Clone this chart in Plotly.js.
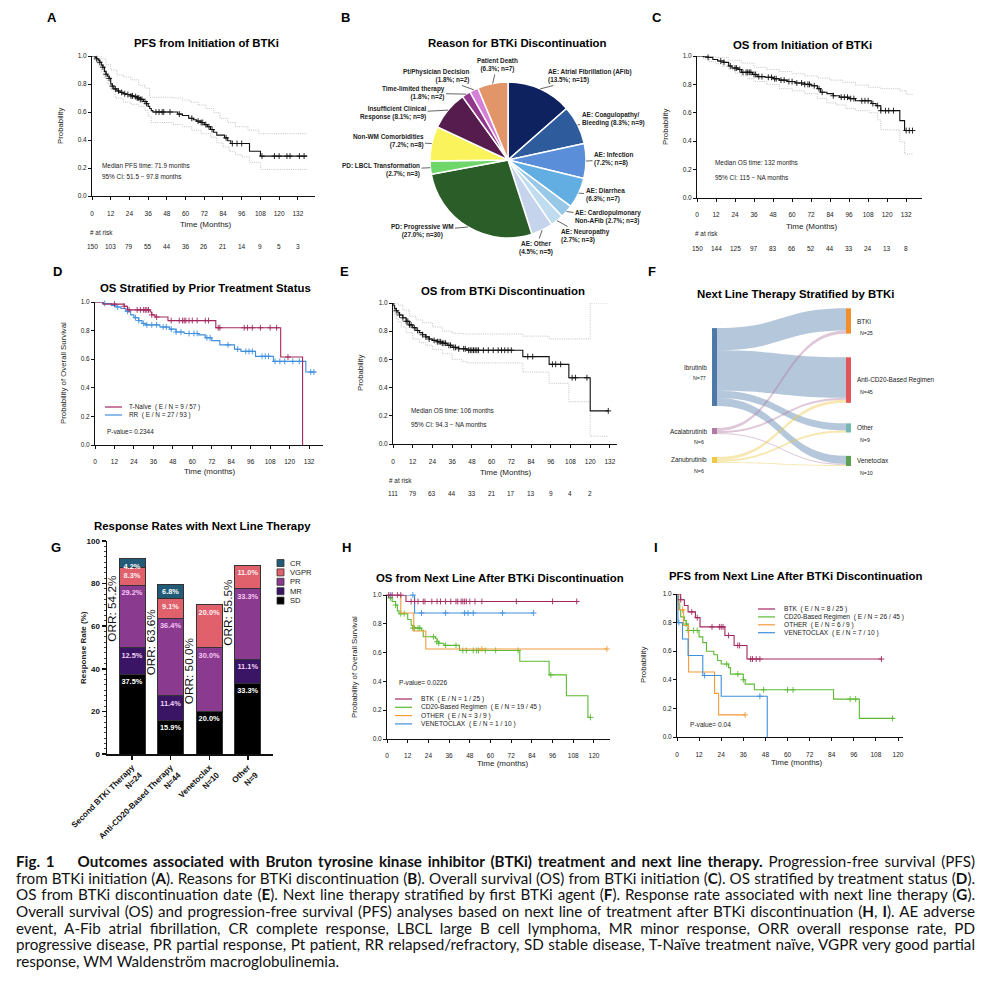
<!DOCTYPE html>
<html><head><meta charset="utf-8">
<script src="https://cdn.plot.ly/plotly-3.0.1.min.js"></script>
<style>
body{margin:0;background:#fff;}
#chart{position:absolute;left:0;top:0;width:994px;height:840px;}
#cap{position:absolute;left:16px;top:853px;width:959px;font-family:Lato,"Open Sans",sans-serif;color:#111;}
#cap div{text-align:justify;text-align-last:justify;white-space:normal;}
#cap div.last{text-align-last:left;}
</style></head><body>
<div id="chart"></div>
<div id="cap"></div>
<script>
// ---------------- DATA ----------------
const timeTicks132 = [0,12,24,36,48,60,72,84,96,108,120,132];
const timeTicks120 = [0,12,24,36,48,60,72,84,96,108,120];
const probTicks = [0,0.2,0.4,0.6,0.8,1.0];

// A: PFS from initiation of BTKi
const pfsA_t = [0,2,3,4,5,6,7,8,9,10,11,12,13,14,16,18,20,22,25,27,29,31,33,35,36,37,38,39,55,58,62,65,67,70,72,74,76,78,80,85,87,89,101,108,138];
const pfsA_s = [1.0,0.99,0.98,0.97,0.955,0.935,0.92,0.89,0.87,0.855,0.84,0.80,0.785,0.765,0.75,0.74,0.73,0.725,0.715,0.71,0.70,0.69,0.675,0.66,0.64,0.625,0.61,0.60,0.585,0.575,0.555,0.545,0.535,0.525,0.51,0.495,0.475,0.455,0.435,0.415,0.395,0.375,0.32,0.285,0.285];
const pfsA_cens = [3,5,7,9,11,13,15,17,19,21,23,25,26,28,29,30,31,32,34,35,41,43,45,46,50,56,64,68,70,71,73,75,77,86,90,93,96,109,117,120,125,127,133,136];
const pfsA_up_t = [0,3,6,9,12,16,20,25,30,34,37,52,58,63,68,73,78,82,87,92,100,107,138];
const pfsA_up_s = [1,1,0.98,0.94,0.90,0.865,0.85,0.83,0.79,0.77,0.705,0.70,0.685,0.67,0.65,0.625,0.595,0.555,0.525,0.495,0.47,0.445,0.445];
const pfsA_lo_t = [0,2,4,6,8,10,12,15,20,25,30,34,36,38,52,58,64,70,76,80,84,88,92,96,101,108,138];
const pfsA_lo_s = [1,0.97,0.93,0.89,0.84,0.80,0.76,0.70,0.67,0.655,0.64,0.61,0.57,0.525,0.51,0.495,0.47,0.445,0.42,0.38,0.35,0.32,0.295,0.28,0.24,0.19,0.19];
const riskA = [150,103,79,55,44,36,26,21,14,9,5,3];

// B: reasons for discontinuation
const pieNames = ['AE: Atrial Fibrillation (AFib)','AE: Coagulopathy/|Bleeding','AE: Infection','AE: Diarrhea','AE: Cardiopulmonary|Non-AFib','AE: Neuropathy','AE: Other','PD: Progressive WM','PD: LBCL Transformation','Non-WM Comorbidities','Insufficient Clinical|Response','Time-limited therapy','Pt/Physician Decision','Patient Death'];
const pieN = [15,9,8,7,3,3,5,30,3,8,9,2,2,7];
const piePct = ['13.5','8.3','7.2','6.3','2.7','2.7','4.5','27.0','2.7','7.2','8.1','1.8','1.8','6.3'];
const pieColors = ['#0e2260','#2d5b9c','#5b8ed8','#62ade2','#98c8e8','#c0dcef','#c6d3ec','#2a5d27','#6fd66a','#fbf35c','#561c4e','#92378c','#d57fd6','#e3956a'];

// C: OS from initiation of BTKi
const osC_t = [0,4,7,10,13,17,20,22,26,28,35,38,43,48,52,57,62,68,72,76,78,82,86,90,96,100,110,113,116,128,131,136];
const osC_s = [1,0.995,0.99,0.975,0.965,0.955,0.93,0.915,0.905,0.885,0.87,0.855,0.85,0.84,0.83,0.82,0.81,0.80,0.79,0.77,0.745,0.735,0.72,0.71,0.70,0.685,0.665,0.65,0.615,0.545,0.475,0.475];
const osC_cens = [7,15,17,21,24,25,27,29,31,32,33,34,36,37,39,41,45,47,49,50,53,55,58,60,63,66,68,70,71,74,77,79,86,91,93,95,97,99,104,106,108,111,114,116,119,121,124,132,134,136];
const osC_up_t = [0,6,12,20,28,36,44,52,60,68,76,84,92,100,108,116,128,132,136];
const osC_up_s = [1,1,0.99,0.97,0.95,0.92,0.905,0.89,0.875,0.86,0.845,0.83,0.815,0.795,0.78,0.77,0.755,0.73,0.72];
const osC_lo_t = [0,4,8,12,16,20,24,28,32,36,44,52,60,68,76,82,88,94,100,109,114,116,128,131,136];
const osC_lo_s = [1,0.98,0.96,0.945,0.925,0.905,0.88,0.86,0.84,0.82,0.80,0.77,0.755,0.735,0.70,0.67,0.655,0.63,0.615,0.60,0.55,0.48,0.395,0.31,0.31];
const riskC = [150,144,125,97,83,66,52,44,33,24,13,8];

// D: OS by prior treatment status
const tnD_t = [0,5,18,20,34,35,37,45,74.5,114.5,128];
const tnD_s = [1,0.985,0.97,0.945,0.93,0.91,0.895,0.87,0.82,0.615,0];
const tnD_cens = [12,18,21,26,28,30,31,32,33,35,38,47,52,54,55,56,58,60,63,68,70,76,77,92,94,97,102,108,112,119];
const rrD_t = [0,5,10,13,16,19,22,24,27,29,31,40,46,50,55,64,68,72,77,86,90,99,110,130,136];
const rrD_s = [1,0.99,0.975,0.965,0.955,0.935,0.91,0.89,0.87,0.85,0.84,0.825,0.81,0.79,0.78,0.77,0.75,0.73,0.70,0.67,0.655,0.62,0.585,0.51,0.51];
const rrD_cens = [6,14,20,25,27,30,32,35,38,42,44,47,50,53,58,61,63,69,71,82,88,93,95,97,103,105,107,111,114,117,122,126,133,135];
const dNames = ['T-Naïve','RR'];
const dEvents = [9,27];
const dTotals = [57,93];
const dPval = '0.2344';

// E: OS from BTKi discontinuation
const osE_t = [0,0.5,1,2,3,4,6,8,10,12,14,16,18,20,22,24,27,30,33,36,40,45,79,95,107,120,131];
const osE_s = [1,0.98,0.96,0.945,0.93,0.915,0.895,0.87,0.845,0.825,0.805,0.79,0.775,0.76,0.745,0.735,0.725,0.715,0.70,0.685,0.675,0.665,0.62,0.565,0.47,0.235,0.235];
const osE_cens = [2,4,6,8,9,10,11,13,15,18,20,22,25,27,28,29,30,31,32,34,35,37,38,40,43,44,46,47,48,49,50,51,52,55,58,61,64,66,68,70,72,82,85,97,99,102,109,111,118,131];
const osE_up_t = [0,1,3,6,10,14,18,24,30,36,42,79,95,120,131];
const osE_up_s = [1,1,0.985,0.95,0.905,0.88,0.86,0.83,0.80,0.785,0.78,0.765,0.745,1.0,1.0];
const osE_lo_t = [0,1,2,3,5,8,12,16,20,24,30,36,42,45,79,95,107,120,131];
const osE_lo_s = [0.96,0.92,0.89,0.865,0.83,0.79,0.745,0.72,0.70,0.67,0.64,0.60,0.585,0.575,0.51,0.43,0.30,0.055,0.055];
const riskE = [111,79,63,44,33,21,17,13,9,4,2];

// F: Sankey next line therapy by first BTKi
const sankeyNodes = ['Ibrutinib','Acalabrutinib','Zanubrutinib','BTKi','Anti-CD20-Based Regimen','Other','Venetoclax'];
const sankeySource = [0,0,0,0,1,1,1,2,2,2];
const sankeyTarget = [3,4,5,6,3,4,6,4,5,6];
const sankeyValue  = [22,40,7,8,3,2,1,3,2,1];
const sankeyNodeColors = ['#4e79a7','#b07aa1','#edc948','#f28e2b','#e15759','#76b7b2','#59a14f'];
const sankeyLinkColors = ['rgba(78,121,167,0.42)','rgba(176,122,161,0.42)','rgba(237,201,72,0.42)'];

// G: response rates
const gCats = ['Second BTKi Therapy','Anti-CD20-Based Therapy','Venetoclax','Other'];
const gN = [24,44,10,9];
const gSD = [37.5,15.9,20.0,33.3];
const gMR = [12.5,11.4,0,11.1];
const gPR = [29.2,36.4,30.0,33.3];
const gVGPR = [8.3,9.1,20.0,11.0];
const gCR = [4.2,6.8,0,0];
const gORR = ['54.2','63.6','50.0','55.5'];
const gSeries = ['SD','MR','PR','VGPR','CR'];
const gColors = ['#000000','#3a1566','#8a3b8f','#e0616c','#215b77'];
const gTextColors = ['#ffffff','#f3d2f3','#f7c7f3','#fff0f4','#ffffff'];

// H: OS from next line
const hBTK_t = [0,11,111];
const hBTK_s = [1,0.955,0.955];
const hBTK_c = [1,3,6,8,14,16,18,21,22,26,29,31,34,37,40,41,43,44,45,46,48,51,55,75,96,110];
const hCD_t = [0,1,3,5,6,7,12,14,15,20,21,28,29,30,33,42,77,94,104,116.5,118];
const hCD_s = [1,0.98,0.955,0.93,0.89,0.87,0.83,0.79,0.77,0.755,0.71,0.70,0.675,0.665,0.65,0.615,0.54,0.445,0.30,0.15,0.15];
const hCD_c = [2,5,8,10,15,16,18,19,27,29,30,34,40,44,46,50,52,53,57,63,76,95,118];
const hOT_t = [0,8,15.5,22.5,127.5];
const hOT_s = [1,0.875,0.75,0.625,0.625];
const hOT_c = [55,127.5];
const hVE_t = [0,16,85];
const hVE_s = [1,0.875,0.875];
const hVE_c = [2,15,20,34,45,47,50,67,85];
const hiNames = ['BTK','CD20-Based Regimen','OTHER','VENETOCLAX'];
const hEvents = [1,19,3,1];
const hiTotals = [25,45,9,10];
const hPval = '0.0226';

// I: PFS from next line
const iBTK_t = [0,2,4,6,10,12.5,26,31,38,111];
const iBTK_s = [1,0.96,0.92,0.875,0.835,0.77,0.71,0.64,0.545,0.545];
const iBTK_c = [2,8,11,19,23,24,25,28,33,34,40,41,43,45,111];
const iCD_t = [0,0.5,1,1.5,2,4,5,6,12,14,16,20,22,24,28,29,36,37,42,85,99,118];
const iCD_s = [1,0.96,0.93,0.89,0.84,0.815,0.79,0.745,0.70,0.66,0.60,0.575,0.535,0.51,0.485,0.44,0.40,0.37,0.33,0.265,0.13,0.13];
const iCD_c = [5,6,9,11,27,33,36,47,60,63,94,97,117];
const iOT_t = [0,1,3.6,6.3,20.4,22.6,37];
const iOT_s = [1,0.89,0.78,0.455,0.305,0.155,0.155];
const iOT_c = [3,37];
const iVE_t = [0,0.5,3,6,14,24,49];
const iVE_s = [1,0.8,0.685,0.57,0.43,0.285,0];
const iVE_c = [1,15,45];
const iEvents = [8,26,6,7];
const iPval = '0.04';

// ---------------- HELPERS ----------------
const FONT = 'Liberation Sans, Arial, sans-serif';
const W = 994, H = 840;
const CRIMSON = '#a3285f', BLUE = '#3e8fdd', GREEN = '#5cba35', ORANGE = '#f29b38';
const PX = x => x / W, PY = y => 1 - y / H;
const dX = (a, b) => [a / W, b / W];
const dY = (top, bottom) => [1 - bottom / H, 1 - top / H];

function stepAt(ts, ss, t) { let v = ss[0]; for (let i = 0; i < ts.length; i++) if (ts[i] <= t) v = ss[i]; return v; }
const traces = [];
function km(ts, ss, cens, color, xa, ya) {
  traces.push({type:'scatter', mode:'lines', x:ts, y:ss, xaxis:xa, yaxis:ya, line:{shape:'hv', color:color, width:1.1}, cliponaxis:false, hoverinfo:'skip', showlegend:false});
  traces.push({type:'scatter', mode:'markers', x:cens, y:cens.map(t => stepAt(ts, ss, t)), xaxis:xa, yaxis:ya,
    marker:{symbol:'cross-thin', size:4.2, color:color, line:{color:color, width:0.9}}, cliponaxis:false, hoverinfo:'skip', showlegend:false});
}
function ci(ts, ss, xa, ya) {
  traces.push({type:'scatter', mode:'lines', x:ts, y:ss, xaxis:xa, yaxis:ya, line:{shape:'hv', color:'#b4b4b4', width:0.8, dash:'1px,1.2px'}, cliponaxis:false, hoverinfo:'skip', showlegend:false});
}
const anns = [];
function T(text, x, y, size, o) {
  anns.push(Object.assign({text:text, x:PX(x), y:PY(y), xref:'paper', yref:'paper', showarrow:false, xanchor:'center', yanchor:'middle',
    font:{family:FONT, size:size, color:'#222'}}, o || {}));
}
const shapes = [];

function xAx(dom, range, anchor, ticks, standoff) {
  return {domain:dom, range:range, anchor:anchor, showgrid:false, zeroline:false, showline:true, linecolor:'#111', linewidth:1,
    ticks:'outside', ticklen:3, tickwidth:1, tickcolor:'#111', tickvals:ticks, tickfont:{family:FONT, size:6.5, color:'#222'},
    ticklabelstandoff:standoff, fixedrange:true};
}
function yAx(dom, anchor) {
  return {domain:dom, range:[0,1], anchor:anchor, showgrid:false, zeroline:false, showline:true, linecolor:'#111', linewidth:1,
    ticks:'outside', ticklen:3, tickwidth:1, tickcolor:'#111', tickvals:probTicks, tickformat:'.1f',
    tickfont:{family:FONT, size:6.5, color:'#222'}, fixedrange:true};
}

// ---------------- PANEL A ----------------
ci(pfsA_up_t, pfsA_up_s, 'x', 'y'); ci(pfsA_lo_t, pfsA_lo_s, 'x', 'y');
km(pfsA_t, pfsA_s, pfsA_cens, '#111', 'x', 'y');
// ---------------- PANEL C ----------------
ci(osC_up_t, osC_up_s, 'x2', 'y2'); ci(osC_lo_t, osC_lo_s, 'x2', 'y2');
km(osC_t, osC_s, osC_cens, '#111', 'x2', 'y2');
// ---------------- PANEL D ----------------
km(rrD_t, rrD_s, rrD_cens, BLUE, 'x3', 'y3');
km(tnD_t, tnD_s, tnD_cens, CRIMSON, 'x3', 'y3');
// ---------------- PANEL E ----------------
ci(osE_up_t, osE_up_s, 'x4', 'y4'); ci(osE_lo_t, osE_lo_s, 'x4', 'y4');
km(osE_t, osE_s, osE_cens, '#111', 'x4', 'y4');
// ---------------- PANEL H ----------------
const hiColors = [CRIMSON, GREEN, ORANGE, BLUE];
km(hCD_t, hCD_s, hCD_c, GREEN, 'x6', 'y6');
km(hOT_t, hOT_s, hOT_c, ORANGE, 'x6', 'y6');
km(hVE_t, hVE_s, hVE_c, BLUE, 'x6', 'y6');
km(hBTK_t, hBTK_s, hBTK_c, CRIMSON, 'x6', 'y6');
// ---------------- PANEL I ----------------
km(iCD_t, iCD_s, iCD_c, GREEN, 'x7', 'y7');
km(iOT_t, iOT_s, iOT_c, ORANGE, 'x7', 'y7');
km(iVE_t, iVE_s, iVE_c, BLUE, 'x7', 'y7');
km(iBTK_t, iBTK_s, iBTK_c, CRIMSON, 'x7', 'y7');

// ---------------- PANEL B (pie) ----------------
const pieCx = 508, pieCy = 160, pieR = 78;
traces.push({type:'pie', values:pieN, labels:pieNames.map(s => s.replace('|',' ')), sort:false, direction:'clockwise', rotation:0,
  textinfo:'none', hoverinfo:'label+value', showlegend:false,
  marker:{colors:pieColors, line:{color:'#ffffff', width:1.5}},
  domain:{x:dX(pieCx - pieR, pieCx + pieR), y:dY(pieCy - pieR, pieCy + pieR)}});
const pieLabelPos = [[590,76],[613,119],[614,159],[605,195],[608,217],[585,236],[536,248],[422,231],[381,170],[388,141],[393,113],[413,93],[436,76],[497,65]];
const pieAlign = ['left','left','left','left','left','left','center','center','right','right','right','right','right','center'];
const pieTotal = pieN.reduce((a, b) => a + b, 0);
let cum = 0;
pieN.forEach((n, i) => {
  const th = 2 * Math.PI * (cum + n / 2) / pieTotal; cum += n;
  const tx = pieCx + pieR * Math.sin(th), ty = pieCy - pieR * Math.cos(th);
  const name = pieNames[i];
  const txt = name.includes('|') ? name.replace('|', '<br>') + ' (' + piePct[i] + '%; n=' + n + ')'
                                 : name + '<br>(' + piePct[i] + '%; n=' + n + ')';
  anns.push({text:'<b>' + txt + '</b>', x:PX(tx), y:PY(ty), xref:'paper', yref:'paper', showarrow:true, arrowhead:0, arrowwidth:0.7,
    arrowcolor:'#222', standoff:0, ax:pieLabelPos[i][0] - tx, ay:pieLabelPos[i][1] - ty, align:pieAlign[i],
    font:{family:FONT, size:6.4, color:'#222'}});
});

// ---------------- PANEL F (sankey) ----------------
const skTop = 305, skBot = 470;
const sankeyNodeX = [0.018,0.018,0.018,0.982,0.982,0.982,0.982];
const sankeyNodeY = [0.376,0.764,0.939,0.097,0.455,0.745,0.945];
traces.push({type:'sankey', arrangement:'fixed', domain:{x:dX(712, 851), y:dY(skTop, skBot)},
  node:{label:sankeyNodes.map(() => ''), x:sankeyNodeX, y:sankeyNodeY, color:sankeyNodeColors, thickness:5, pad:25, line:{width:0}},
  link:{source:sankeySource, target:sankeyTarget, value:sankeyValue, color:sankeySource.map(s => sankeyLinkColors[s])}});
sankeyNodes.forEach((nm, i) => {
  const tot = sankeyValue.reduce((a, v, k) => a + ((sankeySource[k] === i || sankeyTarget[k] === i) ? v : 0), 0);
  const cy = skTop + sankeyNodeY[i] * (skBot - skTop);
  if (sankeyNodeX[i] < 0.5) {
    T(nm, 709, cy, 6.4, {xanchor:'right'});
    T('N=' + tot, 699, cy + 11, 5.3);
  } else {
    T(nm, 855, cy, 6.4, {xanchor:'left'});
    T('N=' + tot, 858, cy + 12, 5.3, {xanchor:'left'});
  }
});

// ---------------- PANEL G (stacked bars) ----------------
const gX = gCats.map((c, i) => '<b>' + c + '</b><br><b>N=' + gN[i] + '</b>');
[gSD, gMR, gPR, gVGPR, gCR].forEach((vals, k) => {
  traces.push({type:'bar', x:gX, y:vals, xaxis:'x5', yaxis:'y5', name:gSeries[k], width:0.67,
    marker:{color:gColors[k], line:{color:'#333', width:1}},
    text:vals.map(v => v > 0 ? '<b>' + v.toFixed(1) + '%</b>' : ''), textposition:'inside', insidetextanchor:'end',
    textangle:0, constraintext:'none', textfont:{family:FONT, size:7.4, color:gTextColors[k]}, hoverinfo:'skip', showlegend:false});
});
gORR.forEach((o, i) => {
  const top = gSD[i] + gMR[i] + gPR[i];
  anns.push({text:'ORR: ' + o + '%', x:i - 0.52, y:top - 11, xref:'x5', yref:'y5', showarrow:false, textangle:-90,
    xanchor:'center', yanchor:'middle', font:{family:FONT, size:11.8, color:'#111'}});
});
const gLegTop = 563, gLegStep = 9.4;
gSeries.slice().reverse().forEach((s, j) => {
  const k = gSeries.length - 1 - j;
  const yc = gLegTop + j * gLegStep;
  shapes.push({type:'rect', xref:'paper', yref:'paper', x0:PX(277), x1:PX(284), y0:PY(yc + 3.5), y1:PY(yc - 3.5),
    fillcolor:gColors[k], line:{color:'#333', width:0.8}});
  T(s, 288, yc, 7.6, {xanchor:'left'});
});

// ---------------- LEGENDS D / H / I ----------------
function lineLegend(names, colors, events, totals, x0, x1, xt, ytop, step, size) {
  names.forEach((nm, i) => {
    const yc = ytop + i * step;
    shapes.push({type:'line', xref:'paper', yref:'paper', x0:PX(x0), x1:PX(x1), y0:PY(yc), y1:PY(yc), line:{color:colors[i], width:1.2}});
    T(nm + '  ( E / N = ' + events[i] + ' / ' + totals[i] + ' )', xt, yc, size, {xanchor:'left'});
  });
}
lineLegend(dNames, [CRIMSON, BLUE], dEvents, dTotals, 105, 122, 127, 407, 8, 6.4);
lineLegend(hiNames, hiColors, hEvents, hiTotals, 395, 412, 419, 699, 8.3, 6.6);
lineLegend(hiNames, hiColors, iEvents, hiTotals, 758, 775, 782, 609, 7.9, 6.6);
T('P-value= ' + dPval, 105, 432, 6.4, {xanchor:'left'});
T('P-value= ' + hPval, 397, 682, 6.6, {xanchor:'left'});
T('P-value= ' + iPval, 688, 724, 6.6, {xanchor:'left'});

// ---------------- TEXT: letters, titles, axis titles ----------------
[['A',52,17],['B',345,17],['C',657,17],['D',57,272],['E',344,272],['F',652,272],['G',56,547],['H',346,547],['I',656,547]]
  .forEach(l => T('<b>' + l[0] + '</b>', l[1], l[2], 13, {font:{family:FONT, size:13, color:'#000'}}));
[['PFS from Initiation of BTKi',206,43],['Reason for BTKi Discontinuation',517,43],['OS from Initiation of BTKi',802,45],
 ['OS Stratified by Prior Treatment Status',205,288],['OS from BTKi Discontinuation',503,291],['Next Line Therapy Stratified by BTKi',795,294],
 ['Response Rates with Next Line Therapy',202,526],['OS from Next Line After BTKi Discontinuation',500,578],['PFS from Next Line After BTKi Discontinuation',795,576]]
  .forEach(t => T('<b>' + t[0] + '</b>', t[1], t[2], 11.4, {font:{family:FONT, size:11.4, color:'#000'}}));
[['Time (Months)',206,225],['Time (Months)',812,227],['Time (months)',210,471],['Time (Months)',506,472],['Time (months)',503,763],['Time (months)',797,762]]
  .forEach(t => T(t[0], t[1], t[2], 8));
[['Probability',60,126],['Probability',665,127],['Probability of Overall Survival',63,373],['Probability',360,373],['Probability of Overall Survival',354,667],['Probability',643,665]]
  .forEach(t => T(t[0], t[1], t[2], 7.8, {textangle:-90}));
T('<b>Response Rate (%)</b>', 83, 648, 8, {textangle:-90});
T('Median PFS time: 71.9 months', 100, 166, 6.4, {xanchor:'left'});
T('95% CI: 51.5 − 97.8 months', 100, 176, 6.4, {xanchor:'left'});
T('Median OS time: 132 months', 713, 163, 6.4, {xanchor:'left'});
T('95% CI: 115 − NA months', 713, 177, 6.4, {xanchor:'left'});
T('Median OS time: 106 months', 409, 410, 6.4, {xanchor:'left'});
T('95% CI: 94.3 − NA months', 409, 424, 6.4, {xanchor:'left'});
function riskTable(vals, xref, xl, yl, yn) {
  T('# at risk', xl, yl, 6.4, {xanchor:'left'});
  vals.forEach((v, i) => anns.push({text:String(v), x:timeTicks132[i], xref:xref, y:PY(yn), yref:'paper', showarrow:false,
    xanchor:'center', yanchor:'middle', font:{family:FONT, size:6.5, color:'#222'}}));
}
riskTable(riskA, 'x', 88, 232, 246);
riskTable(riskC, 'x2', 693, 233, 248);
riskTable(riskE, 'x4', 387, 480, 493);

// ---------------- LAYOUT ----------------
const layout = {
  width:W, height:H, margin:{l:0, r:0, t:0, b:0}, paper_bgcolor:'#fff', plot_bgcolor:'rgba(0,0,0,0)',
  showlegend:false, hovermode:false, barmode:'stack', font:{family:FONT, color:'#222'},
  xaxis:xAx(dX(92,315), [0,143], 'y', timeTicks132, 8),  yaxis:yAx(dY(56,196), 'x'),
  xaxis2:xAx(dX(697,922), [0,142], 'y2', timeTicks132, 7), yaxis2:yAx(dY(56,198), 'x2'),
  xaxis3:xAx(dX(95,323), [0,140.6], 'y3', timeTicks132, 7), yaxis3:yAx(dY(302,445), 'x3'),
  xaxis4:xAx(dX(393,617), [0,136.3], 'y4', timeTicks132, 8), yaxis4:yAx(dY(303,444), 'x4'),
  xaxis6:xAx(dX(387,610), [0,129.3], 'y6', timeTicks120, 7), yaxis6:yAx(dY(595,739), 'x6'),
  xaxis7:xAx(dX(677,903), [0,122.7], 'y7', timeTicks120, 8), yaxis7:yAx(dY(594,737), 'x7'),
  xaxis5:{domain:dX(107,273), range:[-0.65,3.65], anchor:'y5', type:'category', showgrid:false, zeroline:false, showline:true,
    linecolor:'#111', linewidth:1.5, ticks:'outside', ticklen:4, tickwidth:1.2, tickcolor:'#111', tickangle:-45,
    tickfont:{family:FONT, size:8.2, color:'#111'}, fixedrange:true},
  yaxis5:{domain:dY(541,754), range:[0,100], anchor:'x5', showgrid:false, zeroline:false, showline:true, linecolor:'#111', linewidth:1.5,
    ticks:'outside', ticklen:4, tickwidth:1.5, tickcolor:'#111', tickvals:[0,20,40,60,80,100],
    tickfont:{family:FONT, size:8, color:'#111', weight:'bold'},
    minor:{ticks:'outside', ticklen:2, dtick:2.5, tickcolor:'#111', tickwidth:0.8}, fixedrange:true},
  annotations:anns, shapes:shapes
};
Plotly.newPlot('chart', traces, layout, {staticPlot:true, displayModeBar:false});

// ---------------- CAPTION ----------------
const capLines = [
  '<b>Fig. 1&nbsp;&nbsp;&nbsp; Outcomes associated with Bruton tyrosine kinase inhibitor (BTKi) treatment and next line therapy.</b> Progression-free survival (PFS)',
  'from BTKi initiation (<b>A</b>). Reasons for BTKi discontinuation (<b>B</b>). Overall survival (OS) from BTKi initiation (<b>C</b>). OS stratified by treatment status (<b>D</b>).',
  'OS from BTKi discontinuation date (<b>E</b>). Next line therapy stratified by first BTKi agent (<b>F</b>). Response rate associated with next line therapy (<b>G</b>).',
  'Overall survival (OS) and progression-free survival (PFS) analyses based on next line of treatment after BTKi discontinuation (<b>H</b>, <b>I</b>). AE adverse',
  'event, A-Fib atrial fibrillation, CR complete response, LBCL large B cell lymphoma, MR minor response, ORR overall response rate, PD',
  'progressive disease, PR partial response, Pt patient, RR relapsed/refractory, SD stable disease, T-Naïve treatment naïve, VGPR very good partial',
  'response, WM Waldenström macroglobulinemia.'
];
const cap = document.getElementById('cap');
const meas = document.createElement('span');
meas.style.cssText = 'position:absolute;visibility:hidden;white-space:nowrap;font-family:Lato,"Open Sans",sans-serif;';
document.body.appendChild(meas);
let fs = 17;
function maxW(f) { meas.style.fontSize = f + 'px'; let m = 0; capLines.forEach(l => { meas.innerHTML = l; m = Math.max(m, meas.getBoundingClientRect().width); }); return m; }
while (maxW(fs) > 957 && fs > 9) fs -= 0.1;
meas.remove();
cap.style.fontSize = fs + 'px';
capLines.forEach((l, i) => {
  const d = document.createElement('div');
  d.innerHTML = l;
  d.style.height = '16.7px'; d.style.lineHeight = '16.7px'; d.style.whiteSpace = 'nowrap';
  if (i === capLines.length - 1) d.className = 'last';
  cap.appendChild(d);
});
</script>
</body></html>
